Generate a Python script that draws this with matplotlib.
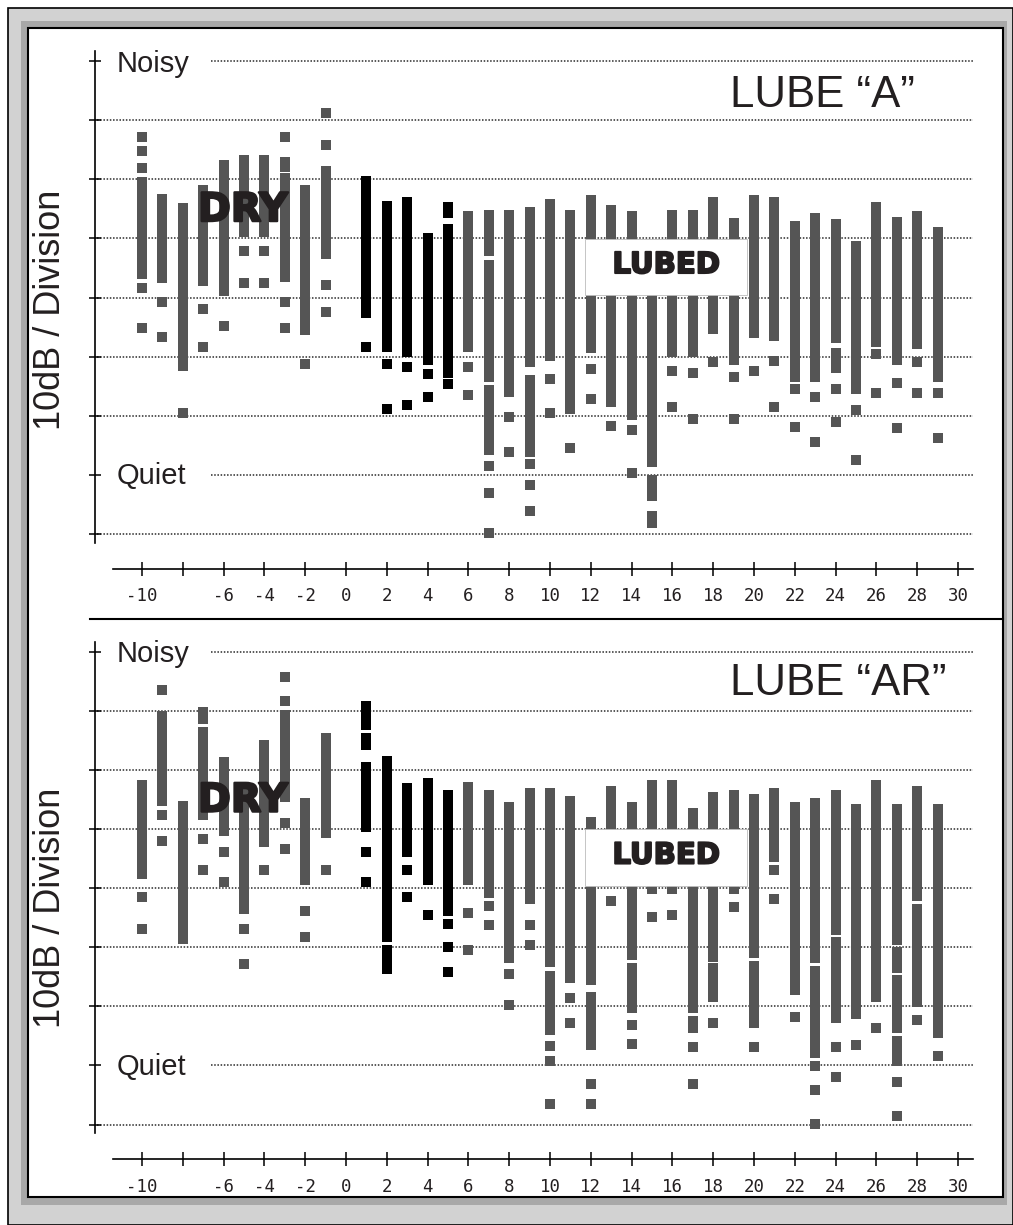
import matplotlib
matplotlib.use('Agg')
import matplotlib.pyplot as plt
import matplotlib.patheffects as pe
from matplotlib.patches import Rectangle
from matplotlib.lines import Line2D

# ---------------- data (in 10 dB divisions, 0 = bottom grid line) ----------------
# lube "A" : bar segments
a_seg_x   = [-10, -9, -8, -7, -6, -5, -4, -3, -3, -2, -1,
             1, 2, 3, 4, 5, 5,
             6, 7, 7, 7, 8, 9, 9, 10, 11, 12, 13, 14, 15, 15, 15,
             16, 17, 18, 19, 20, 21, 22, 23, 24, 24, 25, 26, 27, 28, 29]
a_seg_top = [6.04, 5.76, 5.60, 5.91, 6.33, 6.42, 6.42, 6.38, 6.10, 5.91, 6.22,
             6.05, 5.64, 5.71, 5.09, 5.61, 5.25,
             5.47, 5.49, 4.64, 2.52, 5.49, 5.53, 2.69, 5.67, 5.49, 5.74, 5.57, 5.47, 4.60, 1.00, 0.39,
             5.49, 5.49, 5.71, 5.35, 5.74, 5.71, 5.30, 5.43, 5.33, 3.15, 4.95, 5.61, 5.37, 5.47, 5.19]
a_seg_bot = [4.31, 4.24, 2.75, 4.20, 4.03, 5.03, 5.03, 6.13, 4.27, 3.37, 4.65,
             3.65, 3.08, 3.00, 2.86, 5.34, 2.64,
             3.08, 4.70, 2.58, 1.34, 2.32, 2.82, 1.31, 2.92, 2.03, 3.06, 2.15, 1.93, 1.14, 0.55, 0.10,
             3.00, 3.00, 3.38, 2.86, 3.31, 3.27, 2.58, 2.58, 3.24, 2.72, 2.37, 3.17, 2.86, 3.13, 2.58]
# lube "A" : single readings (squares)
a_dot_x = [-10, -10, -10, -10, -10, -9, -9, -8, -7, -7, -6, -5, -5, -4, -4,
           -3, -3, -3, -2, -1, -1, -1, -1,
           1, 2, 2, 3, 3, 4, 4, 5,
           6, 6, 7, 7, 7, 8, 8, 9, 9, 9, 10, 10, 11, 12, 12, 13, 14, 14,
           16, 16, 17, 17, 18, 19, 19, 20, 21, 21, 22, 22, 23, 23, 24, 24,
           25, 25, 26, 26, 27, 27, 28, 28, 29, 29]
a_dot_y = [6.72, 6.48, 6.20, 4.17, 3.49, 3.93, 3.34, 2.04, 3.80, 3.17, 3.52, 4.79, 4.24, 4.79, 4.24,
           6.72, 3.93, 3.49, 2.87, 7.12, 6.59, 4.21, 3.76,
           3.17, 2.87, 2.11, 2.83, 2.18, 2.70, 2.31, 2.53,
           2.83, 2.35, 1.15, 0.70, 0.01, 1.98, 1.38, 1.18, 0.83, 0.39, 2.62, 2.04, 1.46, 2.79, 2.28, 1.83, 1.76, 1.04,
           2.76, 2.15, 2.73, 1.94, 2.91, 2.65, 1.94, 2.76, 2.92, 2.15, 2.45, 1.81, 2.32, 1.56, 2.45, 1.90,
           2.09, 1.26, 3.05, 2.38, 2.56, 1.80, 2.91, 2.38, 2.38, 1.63]

# lube "AR" : bar segments
ar_seg_x   = [-10, -9, -8, -7, -7, -6, -5, -4, -3, -2, -1,
              1, 1, 1, 2, 2, 3, 4, 5,
              6, 7, 8, 9, 10, 10, 11, 12, 12, 13, 14, 14, 15, 16, 17, 17,
              18, 18, 19, 20, 20, 21, 22, 23, 23, 24, 24, 25, 26, 27, 27, 27, 27, 28, 28, 29]
ar_seg_top = [5.83, 7.00, 5.48, 7.07, 6.73, 6.21, 5.70, 6.50, 7.01, 5.52, 6.62,
              7.17, 6.62, 6.14, 6.24, 3.04, 5.77, 5.87, 5.66,
              5.80, 5.66, 5.46, 5.70, 5.70, 2.60, 5.56, 5.21, 2.25, 5.73, 5.46, 2.73, 5.83, 5.83, 5.35, 1.84,
              5.63, 2.73, 5.66, 5.59, 2.77, 5.70, 5.46, 5.52, 2.68, 5.66, 3.17, 5.42, 5.83, 5.42, 3.00, 2.53, 1.50, 5.73, 3.73, 5.42]
ar_seg_bot = [4.15, 5.39, 3.05, 6.78, 5.15, 4.88, 3.57, 4.70, 5.46, 4.05, 4.84,
              6.68, 6.34, 4.95, 3.08, 2.54, 4.53, 4.05, 3.53,
              4.05, 3.84, 2.74, 3.73, 2.67, 1.51, 2.40, 2.36, 1.26, 4.30, 2.78, 1.89, 4.30, 4.30, 1.89, 1.54,
              2.75, 2.08, 4.30, 2.81, 1.63, 4.45, 2.19, 2.74, 1.12, 3.21, 1.71, 1.78, 2.08, 3.04, 2.57, 1.54, 0.99, 3.79, 1.99, 1.46]
# lube "AR" : single readings (squares)
ar_dot_x = [-10, -10, -9, -9, -9, -7, -7, -6, -6, -5, -5, -4, -3, -3, -3, -3, -2, -2, -1,
            1, 1, 3, 3, 4, 5, 5, 5,
            6, 6, 7, 7, 8, 8, 9, 9, 10, 10, 10, 11, 11, 12, 12, 13, 14, 14, 15, 15, 16, 16,
            17, 17, 18, 19, 19, 20, 21, 21, 22, 23, 23, 23, 24, 24, 25, 26, 27, 27, 28, 29]
ar_dot_y = [3.85, 3.30, 7.36, 5.24, 4.79, 4.83, 4.31, 4.61, 4.10, 3.30, 2.72, 4.31, 7.57, 7.17, 5.10, 4.66, 3.62, 3.17, 4.31,
            4.61, 4.11, 4.31, 3.85, 3.54, 3.40, 3.00, 2.58,
            3.58, 2.95, 3.69, 3.38, 2.55, 2.03, 3.38, 3.03, 1.33, 1.07, 0.34, 2.14, 1.72, 0.69, 0.34, 3.79, 1.68, 1.37, 3.98, 3.51, 3.98, 3.54,
            1.31, 0.69, 1.72, 3.98, 3.68, 1.31, 4.31, 3.82, 1.82, 0.99, 0.58, 0.01, 1.31, 0.80, 1.35, 1.63, 0.72, 0.14, 1.76, 1.16]

dry_cols = [1, 2, 3, 4, 5]          # runs drawn in black
tick_vals = list(range(-10, 31, 2))
tick_lbls = ['' if t == -8 else str(t) for t in tick_vals]
grid_levels = list(range(0, 9))

# ---------------- layout helpers (pixel based) ----------------
W, H = 1013, 1225
PX_X0, PX_UNIT_X = 346.0, 20.4      # pixel of x=0 and pixels per unit
PX_UNIT_Y = 59.1                   # pixels per division
TXT = '#231f20'
GRAY = '#555555'
SANS = ['Liberation Sans', 'DejaVu Sans']

fig = plt.figure(figsize=(W / 100, H / 100), dpi=100)


def fx(px):
    return px / W


def fy(py):
    return 1 - py / H


def frame_rect(x0, y0, x1, y1, **kw):
    r = Rectangle((fx(x0), fy(y1)), fx(x1) - fx(x0), fy(y0) - fy(y1),
                  transform=fig.transFigure, zorder=-10, **kw)
    fig.patches.append(r)


# bevelled grey frame
frame_rect(8, 8, 1013, 1225, facecolor='#d2d2d2', edgecolor='black', lw=1.2)
frame_rect(21, 21, 1007, 1205, facecolor='#a8a8a8', edgecolor='none')
frame_rect(28, 28, 1003, 1197, facecolor='white', edgecolor='black', lw=1.5)
fig.lines.append(Line2D([fx(90), fx(1003)], [fy(619), fy(619)], transform=fig.transFigure,
                        color='black', lw=1.5, zorder=-5))


def panel(base_px, seg_x, seg_top, seg_bot, dot_x, dot_y, title, title_base, ylab_px):
    xl = (95 - PX_X0) / PX_UNIT_X
    xr = (1000 - PX_X0) / PX_UNIT_X
    vt, vb = 8.4, -1.3
    top_px = base_px - vt * PX_UNIT_Y
    bot_px = base_px - vb * PX_UNIT_Y
    ax = fig.add_axes([fx(95), fy(bot_px), fx(1000) - fx(95), fy(top_px) - fy(bot_px)])
    ax.set_zorder(1)
    ax.set_xlim(xl, xr)
    ax.set_ylim(vb, vt)
    ax.patch.set_visible(False)

    x_end = (973 - PX_X0) / PX_UNIT_X
    for lv in grid_levels:
        x_start = -6.6 if lv in (1, 8) else xl + 0.1
        ax.hlines(lv, x_start, x_end, colors='#2a2a2a', lw=1.1,
                  linestyles=(0, (1, 1.1)), zorder=1)

    bw = 10 / PX_UNIT_X
    sq = 10 / PX_UNIT_Y
    for x, t, b in zip(seg_x, seg_top, seg_bot):
        c = 'black' if x in dry_cols else GRAY
        ax.bar(x, t - b, bottom=b, width=bw, color=c, lw=0, zorder=3)
    for x, y in zip(dot_x, dot_y):
        c = 'black' if x in dry_cols else GRAY
        ax.bar(x, sq, bottom=y - sq / 2, width=bw, color=c, lw=0, zorder=3)

    # axes
    for s in ('top', 'right'):
        ax.spines[s].set_visible(False)
    ax.spines['left'].set_linewidth(1.2)
    ax.spines['left'].set_bounds(-0.15, 8.17)
    ax.spines['bottom'].set_position(('data', -0.59))
    ax.spines['bottom'].set_bounds((113 - PX_X0) / PX_UNIT_X, x_end)
    ax.spines['bottom'].set_linewidth(1.2)
    ax.set_xticks(tick_vals)
    ax.set_xticklabels(tick_lbls, family='DejaVu Sans Mono', fontsize=12.5, color=TXT)
    ax.set_yticks(grid_levels)
    ax.tick_params(axis='x', direction='inout', length=9.5, width=1.1, pad=8.5)
    ax.tick_params(axis='y', direction='inout', length=9, width=1.1, labelleft=False)

    # texts
    ax.text(-11.23, 7.82, 'Noisy', family=SANS, fontsize=21, color=TXT, va='baseline', zorder=5)
    ax.text(-11.23, 0.84, 'Quiet', family=SANS, fontsize=21, color=TXT, va='baseline', zorder=5)
    ax.text(18.82, title_base, title, family=SANS, fontsize=31.5, color=TXT,
            va='baseline', ha='left', zorder=5)
    ax.text(-5.05, 5.48, 'DRY', family='DejaVu Sans', fontweight='bold', fontsize=28.5,
            color=TXT, ha='center', va='center', zorder=6,
            path_effects=[pe.withStroke(linewidth=1.6, foreground=TXT)])
    ax.add_patch(Rectangle((11.72, 4.04), 7.94, 0.96, facecolor='white',
                           edgecolor='#bbbbbb', lw=0.6, zorder=5))
    ax.text(15.69, 4.55, 'LUBED', family='DejaVu Sans', fontweight='bold', fontsize=21,
            color=TXT, ha='center', va='center', zorder=6,
            path_effects=[pe.withStroke(linewidth=1.4, foreground=TXT)])
    fig.text(fx(50), fy(ylab_px), '10dB / Division', rotation=90, family=SANS,
             fontsize=26, color=TXT, ha='center', va='center')
    return ax


panel(534.0, a_seg_x, a_seg_top, a_seg_bot, a_dot_x, a_dot_y,
      'LUBE \u201cA\u201d', 7.23, 310)
panel(1124.5, ar_seg_x, ar_seg_top, ar_seg_bot, ar_dot_x, ar_dot_y,
      'LUBE \u201cAR\u201d', 7.27, 908)

fig.savefig('out.png', dpi=100)
